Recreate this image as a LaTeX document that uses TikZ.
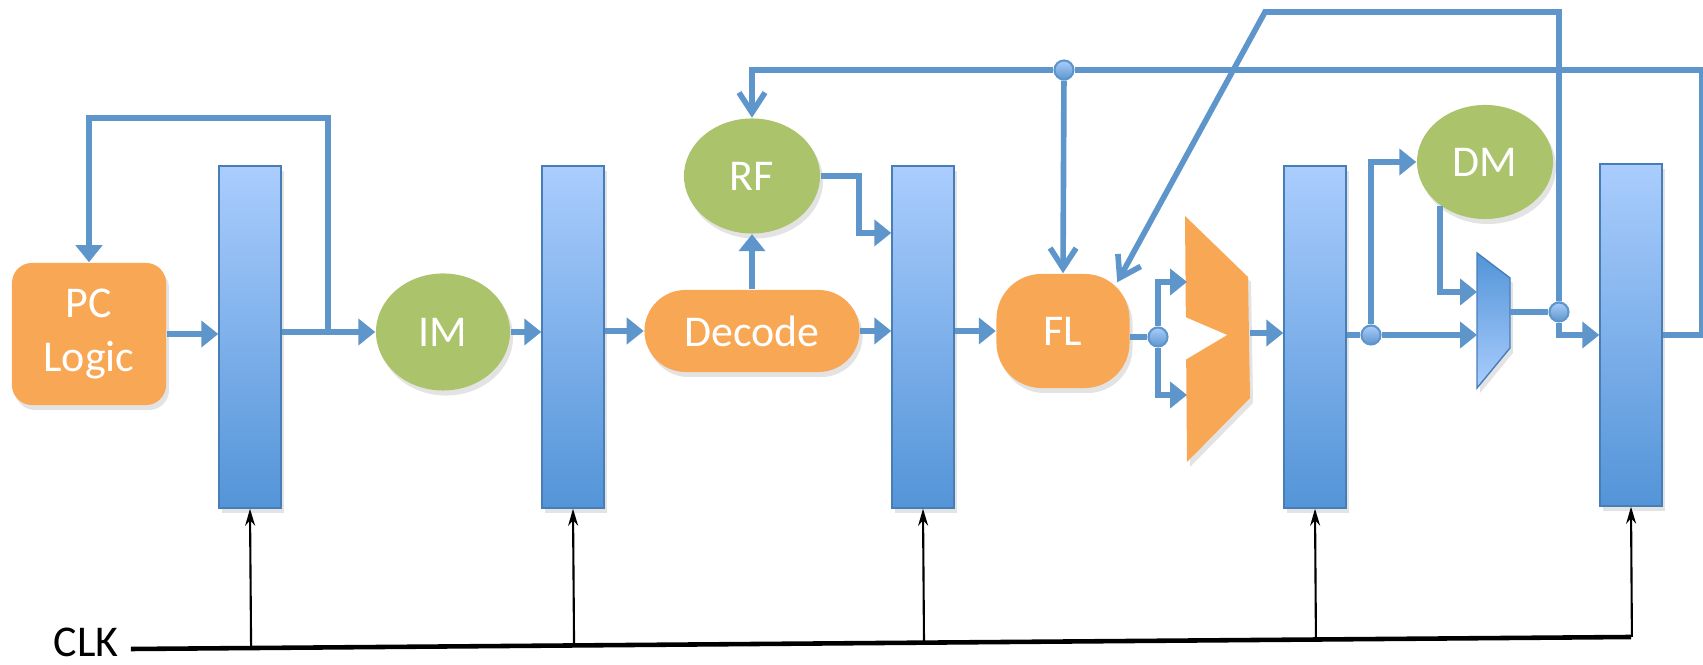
\documentclass[tikz,border=0pt]{standalone}
\usepackage{fontspec}
\setmainfont{Carlito}
\usetikzlibrary{arrows.meta,shapes.geometric,shadows,calc}
\definecolor{stageorange}{HTML}{F8A755}
\definecolor{memgreen}{HTML}{ABC46B}
\definecolor{wireblue}{HTML}{5E96CB}
\definecolor{reglight}{HTML}{AACDFD}
\definecolor{regdark}{HTML}{5394D8}
\begin{document}
\begin{tikzpicture}[x=0.01cm,y=-0.01cm,
  font=\fontsize{12.5}{15.6}\selectfont,
  softshadow/.style={drop shadow={opacity=0.22,shadow xshift=0.03cm,shadow yshift=-0.05cm}},
  reg/.style={shape=rectangle,draw=regdark!85!black,line width=0.4pt,top color=reglight,bottom color=regdark,minimum width=0.62cm,minimum height=3.42cm,softshadow},
  stage/.style={shape=rectangle,fill=stageorange,text=white,softshadow},
  mem/.style={shape=ellipse,fill=memgreen,text=white,minimum width=1.36cm,minimum height=1.15cm,softshadow},
  junc/.style={shape=circle,draw=wireblue,line width=0.6pt,top color=reglight,bottom color=wireblue,minimum size=0.19cm,inner sep=0pt},
  wire/.style={draw=wireblue,line width=1.6pt},
  fwd/.style={-{Triangle[length=0.17cm,width=0.26cm]}},
  barb/.style={-{Straight Barb[length=0.2cm,width=0.26cm]}},
  clkline/.style={black,line width=1.3pt},
  clkarrow/.style={black,line width=0.6pt,-{Stealth[length=0.17cm,width=0.1cm]}}]
\useasboundingbox (0,0) rectangle (1703,665);
% pipeline registers
\node (r1) at (250,337) [reg] {};
\node (r2) at (573,337) [reg] {};
\node (r3) at (923,337) [reg] {};
\node (r4) at (1315,337) [reg] {};
\node (r5) at (1631,335) [reg] {};
% stages
\node (pc) at (89,334) [stage,rounded corners=0.2cm,minimum width=1.54cm,minimum height=1.42cm,align=center] {PC\\Logic};
\node (im) at (443,332) [mem,minimum width=1.34cm,minimum height=1.17cm] {IM};
\node (dec) at (752,331) [stage,rounded corners=0.41cm,minimum width=2.15cm,minimum height=0.82cm] {Decode};
\node (rf) at (752,176) [mem] {RF};
\node (fl) at (1063,331) [stage,rounded corners=0.45cm,minimum width=1.33cm,minimum height=1.14cm] {FL};
\node (dm) at (1485,162) [mem,minimum height=1.14cm] {DM};
% alu and mux
\fill[stageorange,softshadow] (1185,216) -- (1248,277) -- (1250,398) -- (1187,462) -- cycle;
\fill[white] (1185,317) -- (1227,335) -- (1185,360) -- cycle;
\coordinate (alua) at (1187,282);
\coordinate (alub) at (1187,395);
\coordinate (aluo) at (1250,333);
\shade[top color=regdark,bottom color=reglight,draw=regdark!85!black,line width=0.4pt,softshadow] (1477,253) -- (1510,278) -- (1510,348) -- (1477,388) -- cycle;
\coordinate (muxa) at (1477,292);
\coordinate (muxb) at (1477,335);
\coordinate (muxo) at (1510,312);
% junctions
\node (d1) at (1064,70) [junc] {};
\node (d2) at (1158,337) [junc] {};
\node (d3) at (1371,335) [junc] {};
\node (d4) at (1559,312) [junc] {};
\coordinate (k) at (1265,12);
\coordinate (fb) at (328,332);
% wires
\draw[wire,fwd] (pc.east) -- (pc.east -| r1.west);
\draw[wire,fwd] (im.west -| r1.east) -- (im.west);
\draw[wire,fwd] (fb) -- ++(0,-214) -| (pc.north);
\draw[wire,fwd] (im.east) -- (im.east -| r2.west);
\draw[wire,fwd] (dec.west -| r2.east) -- (dec.west);
\draw[wire,fwd] (dec.north) -- (rf.south);
\draw[wire,fwd] (rf.east) -- ++(38,0) |- ([yshift=1.04cm]r3.west);
\draw[wire,fwd] (dec.east) -- (dec.east -| r3.west);
\draw[wire,fwd] (fl.west -| r3.east) -- (fl.west);
\draw[wire] (r5.east) -- ++(39,0) |- (d1);
\draw[wire,barb] (d1) -| (rf.north);
\draw[wire,barb] (d1) -- (fl.north);
\draw[wire] (fl.east |- d2) -- (d2);
\draw[wire,fwd] (d2) |- (alua);
\draw[wire,fwd] (d2) |- (alub);
\draw[wire,fwd] (aluo) -- (aluo -| r4.west);
\draw[wire] (r4.east |- d3) -- (d3);
\draw[wire,fwd] (d3) -- (muxb);
\draw[wire,fwd] (d3) |- (dm.west);
\draw[wire,fwd] (dm.224) |- (muxa);
\draw[wire] (muxo) -- (d4);
\draw[wire,fwd] (d4) |- (r5.west);
\draw[wire,barb] (d4) |- (k) -- ([xshift=-0.13cm,yshift=-0.09cm]fl.north east);
% clock
\node (clk) at (86,642) {CLK};
\coordinate (cs) at ([yshift=-0.07cm]clk.east);
\coordinate (ce) at (1631,637);
\draw[clkline] (cs) -- (ce);
\draw[clkarrow] ($(cs)!(r1.south)!(ce)$) -- (r1.south);
\draw[clkarrow] ($(cs)!(r2.south)!(ce)$) -- (r2.south);
\draw[clkarrow] ($(cs)!(r3.south)!(ce)$) -- (r3.south);
\draw[clkarrow] ($(cs)!(r4.south)!(ce)$) -- (r4.south);
\draw[clkarrow] ($(cs)!(r5.south)!(ce)$) -- (r5.south);
\end{tikzpicture}
\end{document}
